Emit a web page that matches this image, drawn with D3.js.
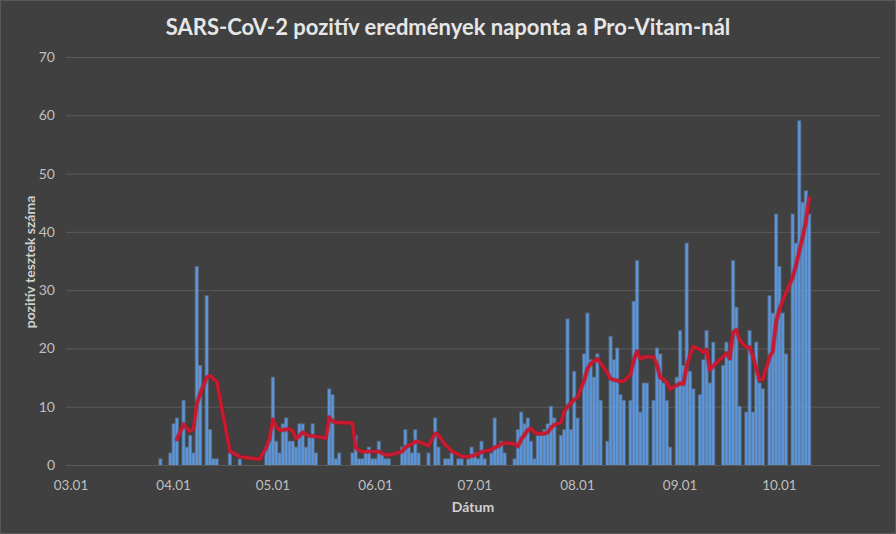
<!DOCTYPE html>
<html><head><meta charset="utf-8">
<script src="https://cdn.jsdelivr.net/npm/d3@7/dist/d3.min.js"></script>
<style>html,body{margin:0;padding:0;background:#404040;}svg{display:block;}</style>
</head><body>
<svg id="chart" width="896" height="534"></svg>
<script>
const title = "SARS-CoV-2 pozitív eredmények naponta a Pro-Vitam-nál";
const yTitle = "pozitív tesztek száma";
const xTitle = "Dátum";
const yTicks = [0,10,20,30,40,50,60,70];
const xTickDates = ["03-01","04-01","05-01","06-01","07-01","08-01","09-01","10-01"];
const xTickLabels = ["03.01","04.01","05.01","06.01","07.01","08.01","09.01","10.01"];

const barDates = ["03-28","03-31","04-01","04-02","04-04","04-05","04-06","04-07","04-08","04-09","04-11","04-12","04-13","04-14","04-18","04-21",
"04-29","04-30","05-01","05-02","05-03","05-04","05-05","05-06","05-07","05-08","05-09","05-10","05-11","05-12","05-13","05-14","05-18","05-19","05-20","05-21",
"05-25","05-26","05-27","05-28","05-29","05-30","05-31","06-01","06-02","06-03","06-04","06-05",
"06-09","06-10","06-11","06-12","06-13","06-14","06-17","06-19","06-20","06-22","06-23","06-24","06-26","06-27",
"06-29","06-30","07-01","07-02","07-03","07-04","07-06","07-07","07-08","07-09","07-10","07-13","07-14","07-15","07-16","07-17","07-18","07-19","07-20","07-21","07-22","07-23","07-24","07-25","07-27","07-28",
"07-29","07-30","07-31","08-01","08-03","08-04","08-05","08-06","08-07","08-08","08-10","08-11","08-12","08-13","08-14","08-15","08-17","08-18","08-19",
"08-20","08-21","08-22","08-24","08-25","08-26","08-27","08-28","08-29","08-31","09-01","09-02","09-03","09-04","09-05","09-07","09-08","09-09","09-10","09-11",
"09-14","09-15","09-16","09-17","09-18","09-19","09-21","09-22","09-23","09-24","09-25","09-26","09-28","09-29","09-30","10-01","10-02","10-03","10-05","10-06","10-07","10-08","10-09","10-10"];
const barValues = [1,2,7,8,11,3,5,2,34,17,29,6,1,1,2,1,
3,4,15,4,2,7,8,4,4,3,7,7,3,5,7,2,13,12,1,2,
2,5,1,1,2,3,1,1,4,2,1,1,
3,6,3,2,6,2,2,8,3,1,1,2,1,1,
1,3,2,1,4,1,2,8,3,4,2,1,6,9,7,8,4,1,5,5,6,7,10,8,5,6,
25,6,16,8,19,26,18,15,19,11,4,22,18,20,12,11,11,28,35,
9,14,14,11,20,19,14,11,3,15,23,17,38,16,13,12,18,23,14,21,
17,21,18,35,27,10,9,23,9,21,14,13,29,26,43,34,26,19,43,38,59,45,47,43];

const lineDates = ["04-02","04-04","04-05","04-06","04-07","04-08","04-09","04-11","04-12","04-13","04-14","04-18","04-21","04-24","04-27","04-29","04-30",
"05-01","05-02","05-03","05-04","05-05","05-06","05-07","05-08","05-09","05-10","05-11","05-12","05-13","05-14","05-17","05-18","05-19","05-20","05-21","05-25","05-26","05-27","05-28","05-31",
"06-02","06-03","06-04","06-05","06-09","06-10","06-11","06-12","06-13","06-14","06-17","06-19","06-20","06-22","06-23","06-24","06-26","06-27","06-29",
"07-01","07-03","07-04","07-06","07-07","07-08","07-09","07-10","07-13","07-14","07-15","07-16","07-17","07-18","07-19","07-20","07-22","07-23","07-24","07-25","07-27","07-28","07-29","07-30","07-31",
"08-01","08-03","08-04","08-05","08-06","08-07","08-08","08-10","08-11","08-12","08-13","08-14","08-15","08-17","08-18","08-19","08-20","08-21","08-22","08-24","08-25","08-26","08-27","08-28","08-29","08-31",
"09-01","09-02","09-03","09-04","09-05","09-07","09-08","09-09","09-10","09-11","09-14","09-15","09-16","09-17","09-18","09-19","09-21","09-22","09-23","09-24","09-25","09-26","09-28","09-29","09-30",
"10-01","10-02","10-03","10-05","10-06","10-07","10-08","10-09","10-10"];
const lineValues = [4.4,7.0,6.3,5.8,6.2,10.5,12.2,15.0,15.3,14.8,14.4,2.4,1.4,1.2,1.0,3.0,4.8,
7.8,6.6,6.0,6.0,6.1,6.2,5.8,4.5,5.0,5.6,5.2,5.0,5.0,4.9,4.6,8.2,7.5,7.3,7.3,7.2,3.0,2.5,2.3,2.3,
2.3,2.0,1.8,1.7,2.3,3.0,3.4,3.6,4.0,4.0,3.3,5.4,5.2,3.5,3.0,2.4,1.8,1.5,1.4,
1.7,2.2,2.4,2.6,3.0,3.2,3.6,3.8,3.6,3.2,4.4,5.2,6.0,6.3,5.6,5.4,5.4,5.6,6.4,6.9,7.3,9.2,10.0,10.6,11.2,
11.6,14.5,16.5,17.4,17.8,18.2,17.5,15.8,14.8,14.6,14.5,14.3,14.4,15.5,18.0,19.5,18.2,18.4,18.6,18.5,17.2,15.0,14.8,14.2,13.0,13.7,
14.0,13.9,17.0,18.8,20.3,19.8,19.3,19.8,16.3,17.0,18.6,19.2,18.3,22.8,23.2,21.4,20.2,20.2,18.7,16.5,14.6,14.7,18.5,19.5,24.5,
26.6,28.2,29.6,32.2,34.2,36.7,39.0,41.8,45.8];

const parse = s => new Date(Date.UTC(2020, +s.slice(0,2)-1, +s.slice(3,5)));

const svg = d3.select("#chart");
const W = 896, H = 534;
const font = "Lato, 'Open Sans', 'DejaVu Sans', sans-serif";
svg.append("rect").attr("x",0.5).attr("y",0.5).attr("width",W-1).attr("height",H-1)
  .attr("fill","#404040").attr("stroke","#595959");

const plotL = 66, plotR = 880;
const x = d3.scaleUtc().domain([parse("03-01"), parse("10-01")]).range([71, 779.4]);
const y = d3.scaleLinear().domain([0,70]).range([465,57]);

// gridlines
svg.append("g").selectAll("line").data(yTicks).join("line")
  .attr("x1",plotL).attr("x2",plotR).attr("y1",d=>y(d)+0.5).attr("y2",d=>y(d)+0.5)
  .attr("stroke","#5a5a5a").attr("stroke-width",1);

// y axis labels
svg.append("g").selectAll("text").data(yTicks).join("text")
  .attr("x",55).attr("y",d=>y(d)+5).attr("text-anchor","end")
  .attr("font-family",font).attr("font-size",14).attr("fill","#bfbfbf").text(d=>d);

// x axis labels
svg.append("g").selectAll("text").data(xTickDates).join("text")
  .attr("x",d=>x(parse(d))).attr("y",490).attr("text-anchor","middle")
  .attr("font-family",font).attr("font-size",13.5).attr("fill","#bfbfbf")
  .text((d,i)=>xTickLabels[i]);

// bars
const bars = barDates.map((d,i)=>({date:parse(d), v:barValues[i]}));
const bw = 2.4;
const bg = svg.append("g");
bg.selectAll("rect.halo").data(bars).join("rect").attr("class","halo")
  .attr("x",d=>x(d.date)-bw/2-0.9).attr("width",bw+1.8)
  .attr("y",d=>y(d.v)-0.9).attr("height",d=>y(0)-y(d.v)+0.9)
  .attr("fill","#80abdf").attr("opacity",0.35);
bg.selectAll("rect.bar").data(bars).join("rect").attr("class","bar")
  .attr("x",d=>x(d.date)-bw/2).attr("width",bw)
  .attr("y",d=>y(d.v)).attr("height",d=>y(0)-y(d.v))
  .attr("fill","#5b96da");

// moving average line
const pts = lineDates.map((d,i)=>({date:parse(d), v:lineValues[i]}));
const line = d3.line().x(d=>x(d.date)).y(d=>y(d.v));
svg.append("path").datum(pts).attr("d",line).attr("fill","none")
  .attr("stroke","#8a1020").attr("stroke-width",5).attr("stroke-opacity",0.3)
  .attr("stroke-linejoin","round").attr("stroke-linecap","round");
svg.append("path").datum(pts).attr("d",line).attr("fill","none")
  .attr("stroke","#c8192e").attr("stroke-width",3.4)
  .attr("stroke-linejoin","round").attr("stroke-linecap","round");

// titles
svg.append("text").attr("x",448).attr("y",35).attr("text-anchor","middle")
  .attr("font-family",font).attr("font-weight","bold").attr("font-size",22)
  .attr("fill","#e6e6e6").text(title);
svg.append("text").attr("x",(plotL+plotR)/2).attr("y",512).attr("text-anchor","middle")
  .attr("font-family",font).attr("font-weight","bold").attr("font-size",14)
  .attr("fill","#d0d0d0").text(xTitle);
svg.append("text").attr("transform","translate(35,262) rotate(-90)").attr("text-anchor","middle")
  .attr("font-family",font).attr("font-weight","bold").attr("font-size",14)
  .attr("fill","#d0d0d0").text(yTitle);
</script>
</body></html>
